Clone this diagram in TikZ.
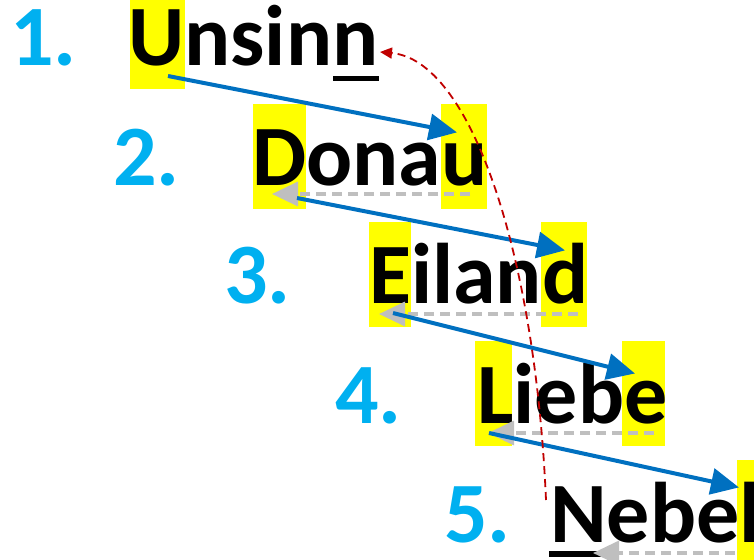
\documentclass[tikz,border=0pt]{standalone}
\usepackage{fontspec}
\setmainfont{Carlito}
\usetikzlibrary{arrows.meta}
\definecolor{numcyan}{HTML}{00B0F0}
\definecolor{arrblue}{HTML}{0070C0}
\definecolor{arrred}{HTML}{C00000}
\definecolor{arrgray}{HTML}{BFBFBF}
\definecolor{hlyellow}{HTML}{FFFF00}
\tikzset{
  word/.style={anchor=base west,inner sep=0pt,text depth=0pt,font=\fontsize{86}{86}\selectfont\bfseries,text=black},
  num/.style={anchor=base west,inner sep=0pt,text depth=0pt,font=\fontsize{86}{86}\selectfont\bfseries,text=numcyan},
  hl/.style={fill=hlyellow,draw=none},
  bluearrow/.style={draw=arrblue,line width=4pt,-{Triangle[length=28pt,width=26pt]},shorten >=-2pt},
  grayarrow/.style={draw=arrgray,line width=3.5pt,dash pattern=on 10pt off 6pt,-{Triangle[length=26pt,width=24pt]}},
  redarrow/.style={draw=arrred,line width=1.8pt,dash pattern=on 8pt off 5pt,-{Triangle[length=12pt,width=11pt]}},
  uline/.style={fill=black,draw=none}
}
\begin{document}
\begin{tikzpicture}[x=1pt,y=-1pt]
\useasboundingbox (0,0) rectangle (754,559);
% highlights
\fill[hl] (130,0) rectangle (185,89);
\fill[hl] (253,104) rectangle (306,209);
\fill[hl] (441,104) rectangle (487,209);
\fill[hl] (369,222) rectangle (411,327);
\fill[hl] (541,222) rectangle (587,327);
\fill[hl] (475,341) rectangle (512,446);
\fill[hl] (622,341) rectangle (665,446);
\fill[hl] (737,460) rectangle (760,565);
% underlines
\fill[uline] (333,76) rectangle (379,81);
\fill[uline] (549,551) rectangle (603,557);
% numbers
\node[num] (n1) at (10,66) {1.};
\node[num] (n2) at (113,185) {2.};
\node[num] (n3) at (224,303) {3.};
\node[num] (n4) at (335,423) {4.};
\node[num] (n5) at (444,542) {5.};
% words
\node[word] (w1) at (128,66) {Unsinn};
\node[word] (w2) at (252,185) {Donau};
\node[word] (w3) at (369,303) {Eiland};
\node[word] (w4) at (477,423) {Liebe};
\node[word] (w5) at (550,542) {Nebel};
% arrow endpoints
\coordinate (a1s) at (168,76);
\coordinate (a1e) at (455,132);
\coordinate (a2s) at (297,198);
\coordinate (a2e) at (563,250);
\coordinate (a3s) at (393,313);
\coordinate (a3e) at (633,373);
\coordinate (a4s) at (489,433);
\coordinate (a4e) at (737,487);
\coordinate (g2s) at (470,194);
\coordinate (g2e) at (272,194);
\coordinate (g3s) at (578,314);
\coordinate (g3e) at (379,314);
\coordinate (g4s) at (654,433);
\coordinate (g4e) at (488,433);
\coordinate (g5s) at (735,553);
\coordinate (g5e) at (593,553);
\coordinate (rs) at (546,500);
\coordinate (re) at (380,52);
% gray dashed arrows
\draw[grayarrow] (g2s) -- (g2e);
\draw[grayarrow] (g3s) -- (g3e);
\draw[grayarrow] (g4s) -- (g4e);
\draw[grayarrow] (g5s) -- (g5e);
% blue arrows
\draw[bluearrow] (a1s) -- (a1e);
\draw[bluearrow] (a2s) -- (a2e);
\draw[bluearrow] (a3s) -- (a3e);
\draw[bluearrow] (a4s) -- (a4e);
% red dashed curve
\draw[redarrow] (rs) .. controls (535,250) and (470,60) .. (re);
\end{tikzpicture}
\end{document}
